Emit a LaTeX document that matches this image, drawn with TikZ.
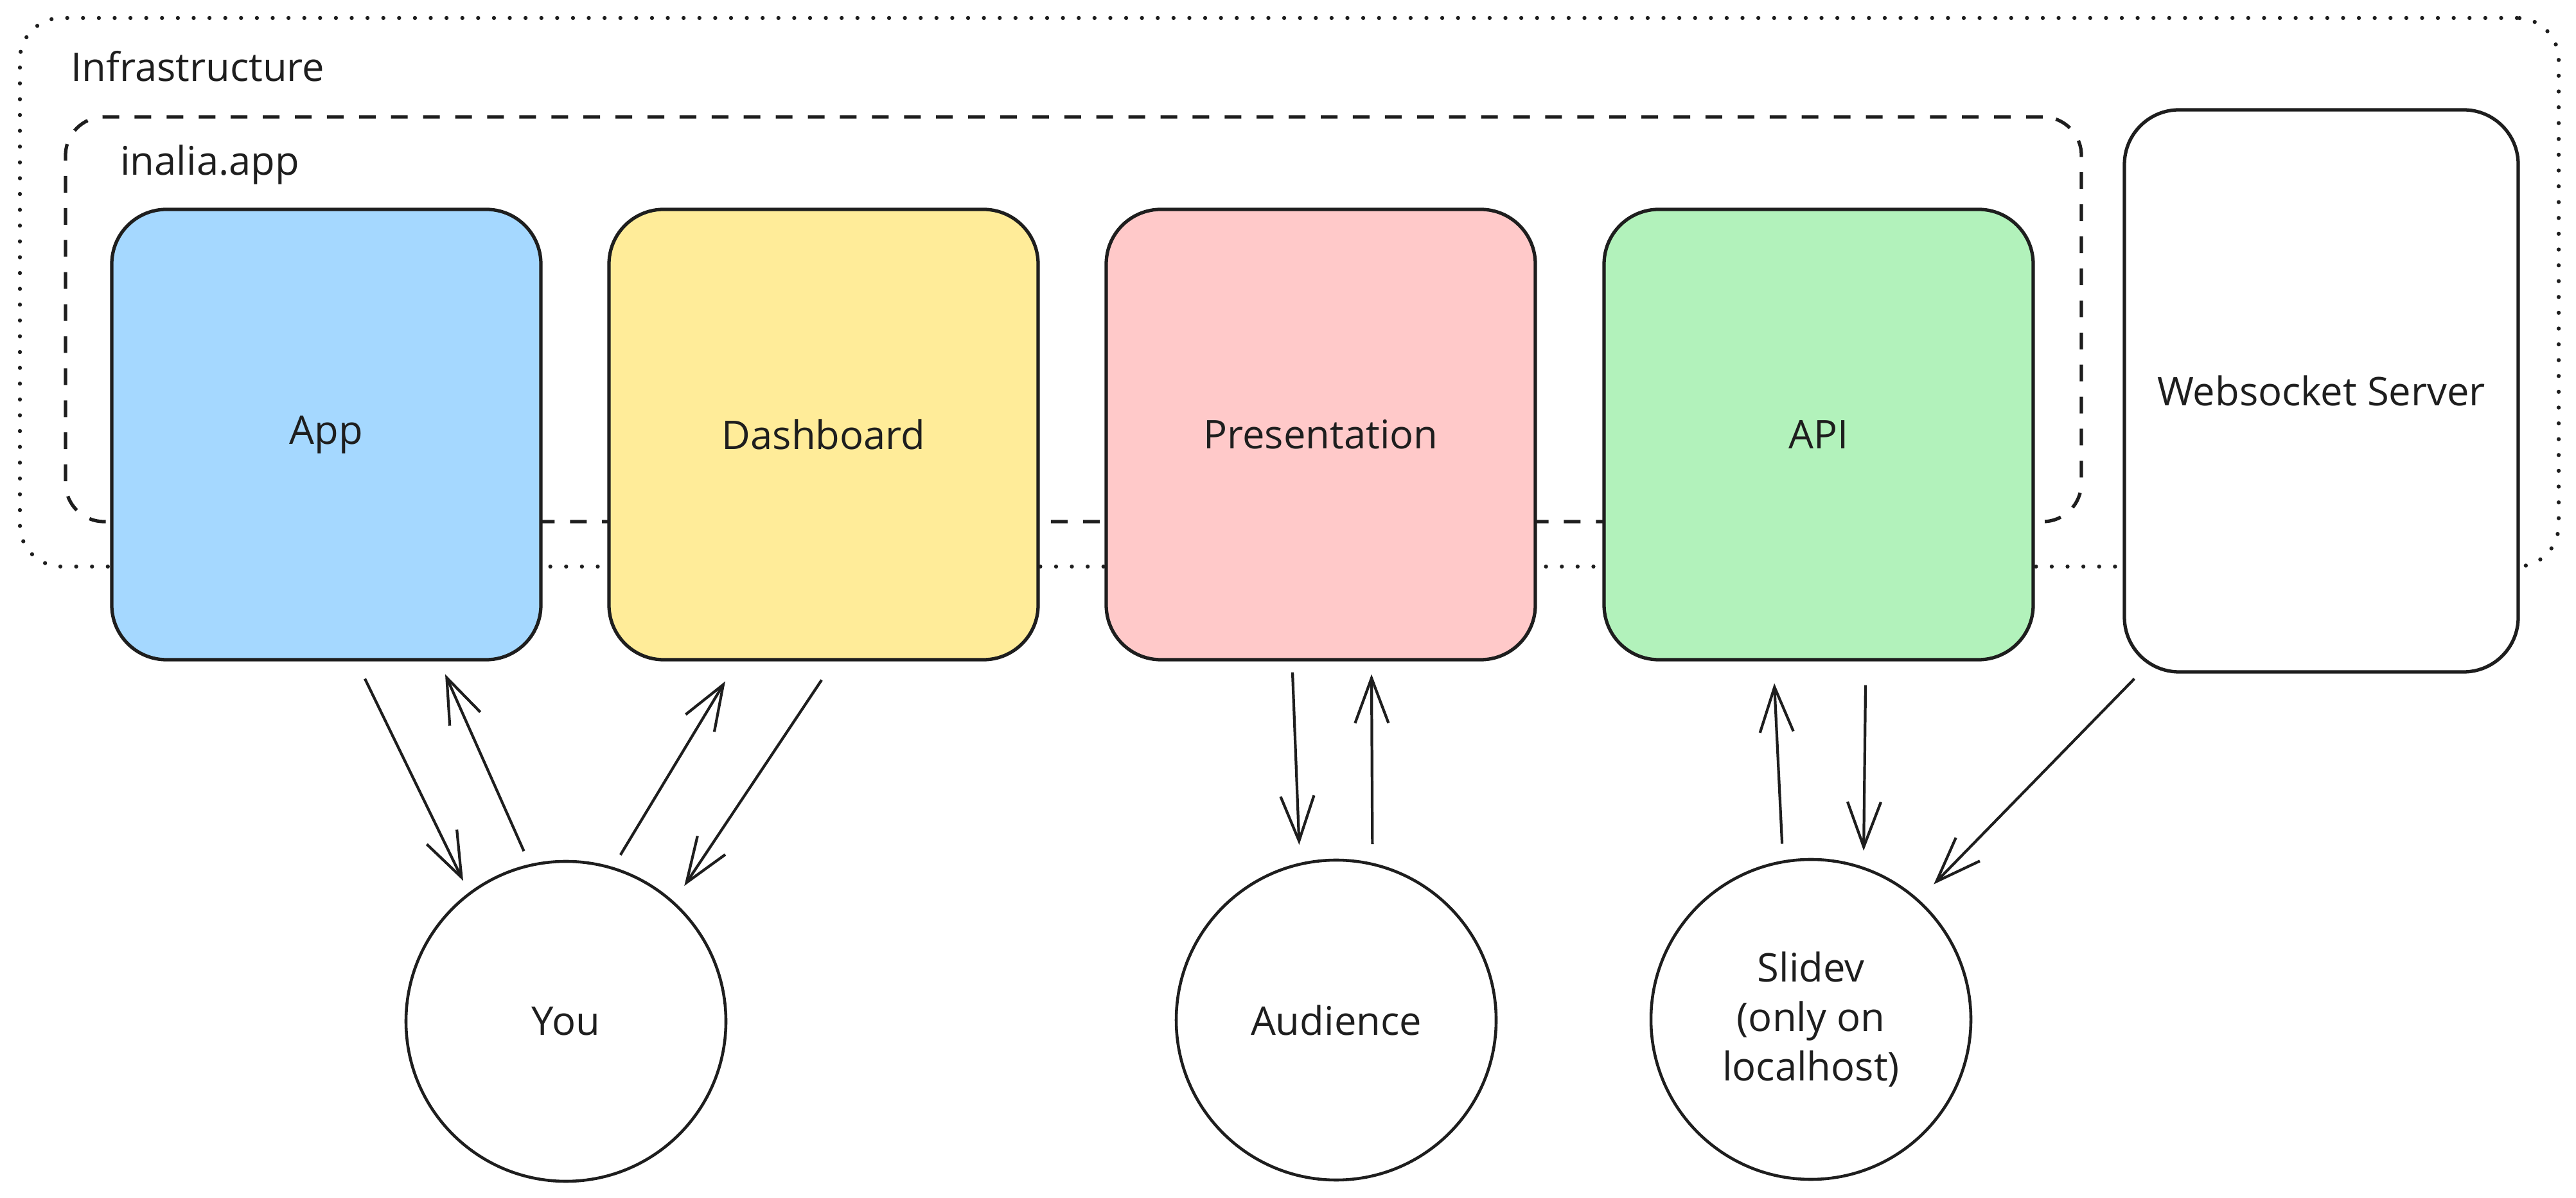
\documentclass[tikz,border=0pt]{standalone}
\usepackage{fontspec}
\setmainfont{Open Sans}
\usepackage{xcolor}
\usepackage{tikz}
\usetikzlibrary{arrows.meta,positioning,shapes.geometric}
\definecolor{exblue}{HTML}{A5D8FF}
\definecolor{exyellow}{HTML}{FFEC99}
\definecolor{exred}{HTML}{FFC9C9}
\definecolor{exgreen}{HTML}{B2F2BB}
\definecolor{ink}{HTML}{1E1E1E}

\begin{document}
\begin{tikzpicture}[color=ink,font=\fontsize{17.5}{22}\selectfont]
    \tikzstyle{svc}=[draw=ink,line width=1.5pt,rounded corners=0.85cm,minimum width=6.68cm,minimum height=7.01cm]
    \tikzstyle{who}=[draw=ink,line width=1.3pt,circle,minimum size=4.98cm,align=center]
    \tikzstyle{a}=[line width=1.2pt,-{Straight Barb[length=7mm,width=5.2mm]}]
    \useasboundingbox (0,0) rectangle (40.1,18.65);
    % frames
    \node[draw=ink,line width=1.8pt,line cap=round,dash pattern=on 0pt off 7pt,rounded corners=0.65cm,minimum width=39.52cm,minimum height=8.54cm] (infra) at (20.07,14.10) {};
    \node[draw=ink,line width=1.5pt,dash pattern=on 7.4pt off 6.8pt,rounded corners=0.6cm,minimum width=31.38cm,minimum height=6.30cm] (inalia) at (16.71,13.68) {};
    \node[anchor=base west] (infralbl) at (0.98,17.38) {Infrastructure};
    \node[anchor=base west] (inalialbl) at (1.75,15.92) {inalia.app};
    % services
    \node[svc,fill=exblue]   (app)  at (5.08,11.885)  {App};
    \node[svc,fill=exyellow] (dash) at (12.82,11.885) {Dashboard};
    \node[svc,fill=exred]    (pres) at (20.56,11.885) {Presentation};
    \node[svc,fill=exgreen]  (api)  at (28.31,11.885) {API};
    \node[svc,fill=white,minimum width=6.13cm,minimum height=8.75cm] (ws) at (36.135,12.565) {Websocket Server};
    % clients
    \node[who] (you)    at (8.81,2.75)  {You};
    \node[who] (aud)    at (20.80,2.77) {Audience};
    \node[who] (slidev) at (28.19,2.78) {Slidev\\(only on\\localhost)};
    \draw[a,shorten >=2mm] ([xshift=0.60cm,yshift=-2.7mm]app.south) -- (you.127);
    \draw[a,shorten <=2.2mm] (you.103) -- ([xshift=1.85cm,yshift=-2mm]app.south);
    \draw[a,shorten <=2.2mm] (you.73) -- ([xshift=-1.53cm,yshift=-3.1mm]dash.south);
    \draw[a,shorten >=2.9mm] ([xshift=-0.03cm,yshift=-2.9mm]dash.south) -- (you.48);
    \draw[a,shorten >=2.8mm] ([xshift=-0.44cm,yshift=-1.7mm]pres.south) -- (aud.103);
    \draw[a,shorten <=2.9mm] (aud.77) -- ([xshift=0.79cm,yshift=-2mm]pres.south);
    \draw[a,shorten <=2.6mm] (slidev.100) -- ([xshift=-0.69cm,yshift=-3.4mm]api.south);
    \draw[a,shorten >=2.5mm] ([xshift=0.73cm,yshift=-3.7mm]api.south) -- (slidev.71);
    \draw[a,shorten >=3.3mm] ([xshift=-2.91cm,yshift=-0.8mm]ws.south) -- (slidev.48);
  \end{tikzpicture}
\end{document}
